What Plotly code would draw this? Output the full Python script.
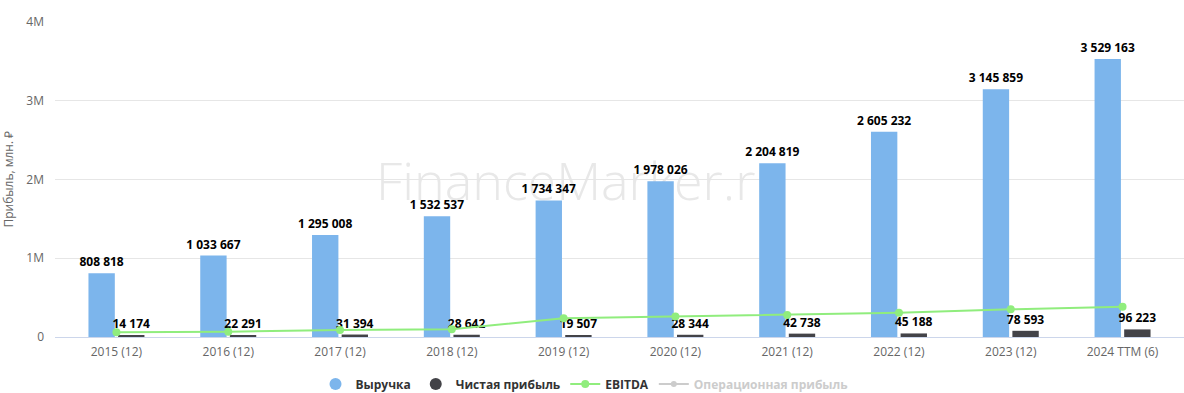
import plotly.graph_objects as go

categories = ["2015 (12)", "2016 (12)", "2017 (12)", "2018 (12)", "2019 (12)",
              "2020 (12)", "2021 (12)", "2022 (12)", "2023 (12)", "2024 TTM (6)"]
revenue = [808818, 1033667, 1295008, 1532537, 1734347, 1978026, 2204819, 2605232, 3145859, 3529163]
net_profit = [14174, 22291, 31394, 28642, 19507, 28344, 42738, 45188, 78593, 96223]
ebitda = [59000, 68000, 90000, 98000, 237000, 259000, 280000, 309000, 351000, 385000]
operating_profit = [None] * len(categories)  # series hidden in the reference

y_ticks = [0, 1000000, 2000000, 3000000, 4000000]
y_tick_labels = ["0", "1M", "2M", "3M", "4M"]

FONT = "Open Sans"
BLUE = "#7cb5ec"
DARK = "#434348"
GREEN = "#90ed7d"


def fmt(v):
    return f"{v:,}".replace(",", " ")


fig = go.Figure()

label_font = dict(family=FONT, size=12, color="#000000", weight="bold")

fig.add_trace(go.Bar(
    x=categories, y=revenue, name="Выручка", marker_color=BLUE,
    text=[fmt(v) for v in revenue], textposition="outside", textfont=label_font,
    constraintext="none", cliponaxis=False, showlegend=False, legendgroup="rev",
    marker_line_width=0,
))
fig.add_trace(go.Bar(
    x=categories, y=net_profit, name="Чистая прибыль", marker_color=DARK,
    text=[fmt(v) for v in net_profit], textposition="outside", textfont=label_font,
    constraintext="none", cliponaxis=False, showlegend=False, legendgroup="np",
    marker_line_width=0,
))
fig.add_trace(go.Scatter(
    x=categories, y=ebitda, name="EBITDA", mode="lines+markers",
    line=dict(color=GREEN, width=2), marker=dict(color=GREEN, size=8),
    cliponaxis=False, showlegend=False, legendgroup="eb",
))

# legend entries (Highcharts-style circle symbols)
fig.add_trace(go.Scatter(x=[None], y=[None], mode="markers", name="Выручка",
                         marker=dict(color=BLUE, size=12), legendgroup="rev"))
fig.add_trace(go.Scatter(x=[None], y=[None], mode="markers", name="Чистая прибыль",
                         marker=dict(color=DARK, size=12), legendgroup="np"))
fig.add_trace(go.Scatter(x=[None], y=[None], mode="lines+markers", name="EBITDA",
                         line=dict(color=GREEN, width=2), marker=dict(color=GREEN, size=8),
                         legendgroup="eb"))
fig.add_trace(go.Scatter(x=categories, y=operating_profit, mode="lines+markers",
                         name='<span style="color:#cccccc">Операционная прибыль</span>',
                         line=dict(color="#cccccc", width=2), marker=dict(color="#cccccc", size=6)))

fig.update_layout(
    width=1184, height=393,
    margin=dict(l=55, r=0, t=22, b=56, autoexpand=False),
    paper_bgcolor="white", plot_bgcolor="white",
    barmode="group", bargap=0.47, bargroupgap=0.11,
    font=dict(family=FONT, size=12, color="#666666"),
    showlegend=True,
    legend=dict(orientation="h", x=0.469, xanchor="center", y=-0.149, yanchor="middle",
                font=dict(family=FONT, size=12, color="#333333", weight="bold"),
                itemclick=False, itemdoubleclick=False),
    xaxis=dict(type="category", showgrid=False, showline=True, linecolor="#ccd6eb",
               linewidth=1, ticks="", tickfont=dict(family=FONT, size=12, color="#666666"),
               ticklabelstandoff=4, automargin=False, fixedrange=True),
    yaxis=dict(range=[0, 4000000], tickvals=y_ticks, ticktext=y_tick_labels,
               showgrid=True, gridcolor="#e6e6e6", gridwidth=1, zeroline=False,
               showline=False, ticks="", tickfont=dict(family=FONT, size=12, color="#666666"),
               ticklabelstandoff=10, automargin=False, fixedrange=True),
    annotations=[
        dict(text="Прибыль, млн. ₽", xref="paper", yref="paper",
             x=-0.0416, y=0.5, xanchor="center", yanchor="middle", textangle=-90,
             showarrow=False, font=dict(family=FONT, size=12, color="#666666")),
    ],
    shapes=[
        dict(type="rect", xref="paper", yref="paper", x0=0.166, x1=0.766, y0=0.386, y1=0.586,
             layer="below", line=dict(width=0), fillcolor="rgba(0,0,0,0)",
             label=dict(text="FinanceMarker.ru", textposition="middle center",
                        font=dict(family="Open Sans", size=52, color="#e8e8e8", weight=300))),
    ],
)

fig.write_html(
    "out.html",
    config={"displayModeBar": False},
    post_script="document.body.style.margin='0';document.body.style.overflow='hidden';",
)
